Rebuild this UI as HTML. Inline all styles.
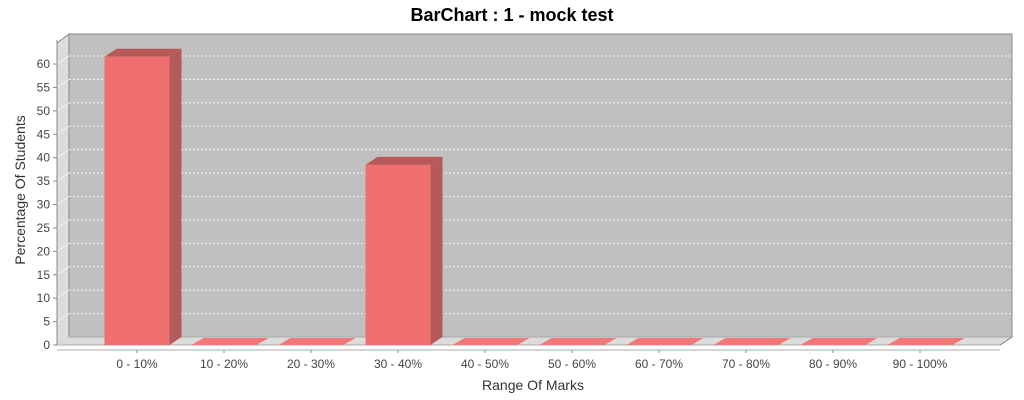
<!DOCTYPE html>
<html><head><meta charset="utf-8"><style>
body{margin:0;background:#fff;}
svg{display:block;font-family:"Liberation Sans","DejaVu Sans",sans-serif;}
</style></head><body>
<svg id="chart" width="1024" height="400" viewBox="0 0 1024 400" xmlns="http://www.w3.org/2000/svg">
<rect width="1024" height="400" fill="#fff"/>
<text x="512" y="21" text-anchor="middle" font-size="18" font-weight="bold" fill="#000">BarChart : 1 - mock test</text>
<g id="plot"></g>
<text transform="translate(25,190) rotate(-90)" text-anchor="middle" font-size="14" fill="#333">Percentage Of Students</text>
<text x="533" y="390" text-anchor="middle" font-size="14" fill="#333">Range Of Marks</text>
</svg>
<script>
const categories = ["0 - 10%","10 - 20%","20 - 30%","30 - 40%","40 - 50%","50 - 60%","60 - 70%","70 - 80%","80 - 90%","90 - 100%"];
const values = [61.54,0,0,38.46,0,0,0,0,0,0];
const yTicks = [0,5,10,15,20,25,30,35,40,45,50,55,60];

const NS="http://www.w3.org/2000/svg";
const g=document.getElementById('plot');
const L=57,R=1000,B=345,D=12,DY=8,TOP=43;
const pxPer=(345-64)/60;
const y=v=>B-v*pxPer;
const slot=87, first=137, bw=65;
const xc=i=>first+i*slot;
function add(tag,attrs,name,parent){const e=document.createElementNS(NS,tag);for(const k in attrs)e.setAttribute(k,attrs[k]);


(parent||g).appendChild(e);return e;}
add('rect',{x:L+D,y:TOP-DY-1,width:R-L,height:B-TOP+1,fill:'#c0c0c0',stroke:'#888','stroke-width':1},'back-wall');
add('polygon',{points:`${L},${TOP} ${L+D},${TOP-DY-1} ${L+D},${B-DY} ${L},${B}`,fill:'#dcdcdc',stroke:'#888','stroke-width':1},'left-wall');
add('polygon',{points:`${L},${B} ${L+D},${B-DY} ${R+D},${B-DY} ${R},${B}`,fill:'#dcdcdc',stroke:'#aaa','stroke-width':1},'floor');
yTicks.forEach(t=>{
 if(t>0) add('line',{x1:L+D,x2:R+D,y1:y(t)-DY,y2:y(t)-DY,stroke:'#fff','stroke-dasharray':'2,2','stroke-width':1,opacity:0.9},'gridline');
 add('line',{x1:L,x2:L+D,y1:y(t),y2:y(t)-DY,stroke:'#fff','stroke-width':1,opacity:0.6},'gridline-wall');
 add('line',{x1:L-4,x2:L,y1:y(t),y2:y(t),stroke:'#888'},'y-tick');
 const tx=add('text',{x:L-7,y:y(t)+4,'text-anchor':'end','font-size':12,fill:'#444'},'y-tick-label');tx.textContent=t;
});
add('line',{x1:L,x2:L,y1:TOP-3,y2:B,stroke:'#888'},'y-axis-line');
values.forEach((v,i)=>{
 const x0=xc(i)-bw/2,x1=x0+bw,yt=y(v);
 if(v>0){
  add('polygon',{points:`${x1},${yt} ${x1+D},${yt-DY} ${x1+D},${B-DY} ${x1},${B}`,fill:'#b35a5a'},'bar-side');
  add('polygon',{points:`${x0},${yt} ${x0+D},${yt-DY} ${x1+D},${yt-DY} ${x1},${yt}`,fill:'#b85858'},'bar-top');
  add('rect',{x:x0,y:yt,width:bw,height:B-yt,fill:'#f07070'},'bar-'+i);
 } else {
  add('polygon',{points:`${x0},${B} ${x0+D},${B-DY+1} ${x1+D},${B-DY+1} ${x1},${B}`,fill:'#f47777'},'bar-'+i);
 }
 add('line',{x1:xc(i),x2:xc(i),y1:B+5,y2:B+8,stroke:'#888'},'x-tick');
 const t=add('text',{x:xc(i),y:368,'text-anchor':'middle','font-size':12,fill:'#444'},'x-tick-label');t.textContent=categories[i];
});
add('line',{x1:R,x2:R+D,y1:B,y2:B-DY,stroke:'#888'},'right-edge');
add('line',{x1:L,x2:R,y1:B+5,y2:B+5,stroke:'#aaa'},'x-axis-line');
</script>
</body></html>
